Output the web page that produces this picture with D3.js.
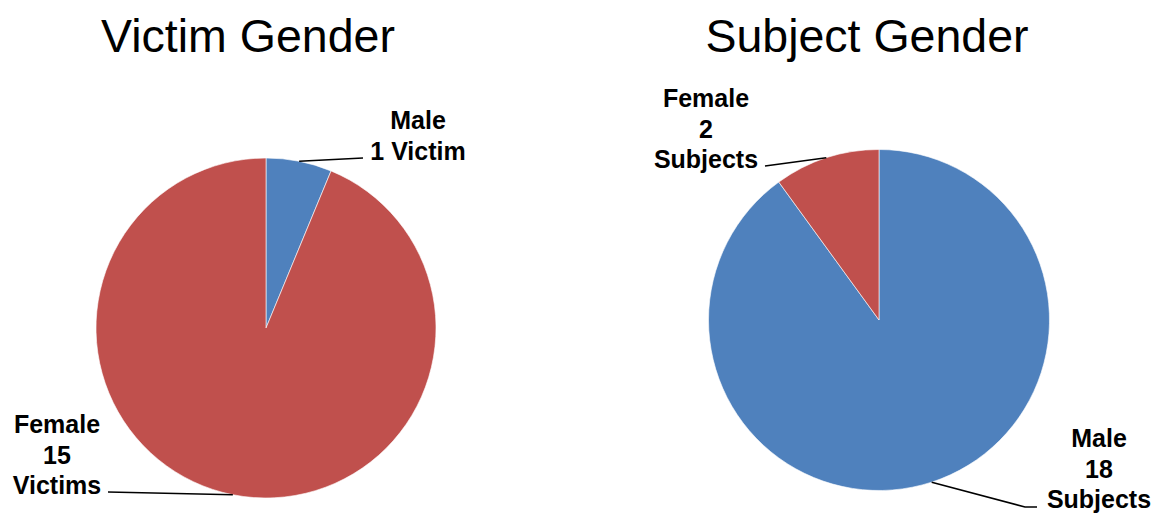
<!DOCTYPE html>
<html>
<head>
<meta charset="utf-8">
<script src="https://cdn.jsdelivr.net/npm/d3@7"></script>
<style>
  html, body { margin: 0; padding: 0; background: #fff; }
  svg { display: block; }
</style>
</head>
<body>
<svg id="chart" width="1155" height="514"></svg>
<script>
// ---- data ----
const categories = ["Male", "Female"];
const victimValues = [1, 15];
const subjectValues = [18, 2];
const victimLabels = [["Male", "1 Victim"], ["Female", "15", "Victims"]];
const subjectLabels = [["Male", "18", "Subjects"], ["Female", "2", "Subjects"]];
const titles = ["Victim Gender", "Subject Gender"];

// ---- style / layout ----
const colors = d3.scaleOrdinal().domain(categories).range(["#4F81BD", "#C0504D"]);
const svg = d3.select("#chart");
const font = "'Liberation Sans', Arial, sans-serif";

const charts = [
  {
    title: titles[0], titleX: 248, values: victimValues, labels: victimLabels,
    cx: 266, cy: 328, r: 170,
    labelPos: [
      { x: 418, y: 129, end: [363, 158], tail: 0 },
      { x: 57, y: 433, end: [108, 492], tail: 0 }
    ]
  },
  {
    title: titles[1], titleX: 867, values: subjectValues, labels: subjectLabels,
    cx: 879, cy: 320, r: 170.5,
    labelPos: [
      { x: 1099, y: 447, end: [1037, 507], tail: -12 },
      { x: 706, y: 107, end: [765, 166], tail: 0 }
    ]
  }
];

const pie = d3.pie().sort(null).value(d => d.v);

charts.forEach(c => {
  const g = svg.append("g").attr("transform", `translate(${c.cx},${c.cy})`);
  const arc = d3.arc().innerRadius(0).outerRadius(c.r);
  const data = pie(categories.map((k, i) => ({ k, v: c.values[i] })));

  g.selectAll("path.slice").data(data).join("path")
    .attr("class", "slice")
    .attr("d", arc)
    .attr("fill", d => colors(d.data.k))
    .attr("stroke", "#fff")
    .attr("stroke-width", 0.6);

  svg.append("text")
    .attr("x", c.titleX).attr("y", 52)
    .attr("text-anchor", "middle")
    .attr("font-family", font)
    .attr("font-size", "46.5px")
    .attr("fill", "#000")
    .text(c.title);

  data.forEach((d, i) => {
    const lp = c.labelPos[i];
    const mid = (d.startAngle + d.endAngle) / 2;
    const sx = c.cx + c.r * Math.sin(mid);
    const sy = c.cy - c.r * Math.cos(mid);
    const pts = [[sx, sy]];
    if (lp.tail) pts.push([lp.end[0] + lp.tail, lp.end[1]]);
    pts.push(lp.end);
    svg.append("path")
      .attr("d", d3.line()(pts))
      .attr("fill", "none")
      .attr("stroke", "#000")
      .attr("stroke-width", 1.5);

    const t = svg.append("text")
      .attr("text-anchor", "middle")
      .attr("font-family", font)
      .attr("font-weight", "bold")
      .attr("font-size", "25px")
      .attr("fill", "#000");
    c.labels[i].forEach((line, j) => {
      t.append("tspan").attr("x", lp.x).attr("y", lp.y + j * 30.5).text(line);
    });
  });
});
</script>
</body>
</html>
